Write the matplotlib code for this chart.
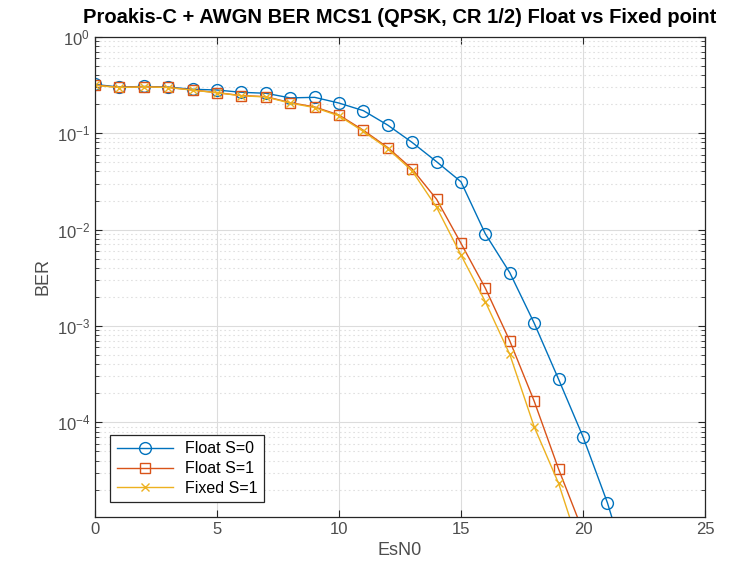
import matplotlib
matplotlib.use("Agg")
import matplotlib.pyplot as plt
from matplotlib.ticker import LogLocator, NullFormatter, MultipleLocator

plt.rcParams["font.family"] = ["Liberation Sans", "DejaVu Sans"]
plt.rcParams["mathtext.fontset"] = "custom"
plt.rcParams["mathtext.rm"] = "Liberation Sans"
plt.rcParams["mathtext.default"] = "regular"

# BER curves
esn0_float0 = list(range(0, 23))
ber_float0 = [0.32, 0.30, 0.305, 0.30, 0.285, 0.28, 0.265, 0.259, 0.232, 0.235,
              0.205, 0.171, 0.121, 0.080, 0.0505, 0.0313, 0.0090, 0.00357,
              0.00107, 2.8e-4, 7.1e-5, 1.47e-5, 2.2e-6]

esn0_float1 = list(range(0, 21))
ber_float1 = [0.315, 0.298, 0.303, 0.298, 0.28, 0.263, 0.245, 0.239, 0.207, 0.187,
              0.154, 0.107, 0.0708, 0.0424, 0.0206, 0.0072, 0.00246, 7.0e-4,
              1.66e-4, 3.28e-5, 7.4e-6]

esn0_fixed1 = list(range(0, 21))
ber_fixed1 = [0.313, 0.297, 0.302, 0.297, 0.279, 0.262, 0.244, 0.237, 0.205, 0.184,
              0.151, 0.104, 0.0690, 0.0405, 0.0170, 0.00544, 0.00178, 5.07e-4,
              9.0e-5, 2.33e-5, 3.9e-6]

labels = ["Float S=0", "Float S=1", "Fixed S=1"]

fig = plt.figure(figsize=(7.51, 5.78), dpi=100)
ax = fig.add_axes([0.1265, 0.106, 0.8122, 0.8305])

ax.semilogy(esn0_float0, ber_float0, "-o", color="#0072BD", lw=1.0,
            ms=8.5, mfc="none", mew=1.0, label=labels[0])
ax.semilogy(esn0_float1, ber_float1, "-s", color="#D95319", lw=1.0,
            ms=6.5, mfc="none", mew=1.0, label=labels[1])
ax.semilogy(esn0_fixed1, ber_fixed1, "-x", color="#EDB120", lw=1.0,
            ms=6, mew=1.0, label=labels[2])

ax.set_xlim(0, 25)
ax.set_ylim(1.05e-5, 1)
ax.xaxis.set_major_locator(MultipleLocator(5))
ax.yaxis.set_major_locator(LogLocator(base=10, numticks=10))
ax.yaxis.set_minor_locator(LogLocator(base=10, subs=range(2, 10), numticks=20))
ax.yaxis.set_minor_formatter(NullFormatter())

ax.grid(True, which="major", color="#dcdcdc", lw=0.8)
ax.grid(True, which="minor", axis="y", color="#e0e0e0", lw=0.8, ls=(0, (1.5, 2.5)))
ax.set_axisbelow(True)

for sp in ax.spines.values():
    sp.set_color("#262626")
    sp.set_linewidth(0.9)
ax.tick_params(which="both", direction="in", top=True, right=True,
               colors="#262626", labelcolor="#4d4d4d", labelsize=12)
ax.tick_params(which="major", length=5)
ax.tick_params(which="minor", length=3)

ax.set_xlabel("EsN0", fontsize=13, color="#4d4d4d")
ax.set_ylabel("BER", fontsize=13, color="#4d4d4d")
ax.set_title("Proakis-C + AWGN BER MCS1 (QPSK, CR 1/2) Float vs Fixed point",
             fontsize=14.5, fontweight="bold", pad=10)

leg = ax.legend(loc="lower left", bbox_to_anchor=(0.025, 0.03), fontsize=11.5,
                handlelength=3.5, fancybox=False, framealpha=1, borderaxespad=0,
                edgecolor="#262626", borderpad=0.4, labelspacing=0.3)
leg.get_frame().set_linewidth(0.9)

fig.savefig("out.png", dpi=100, facecolor="white")
